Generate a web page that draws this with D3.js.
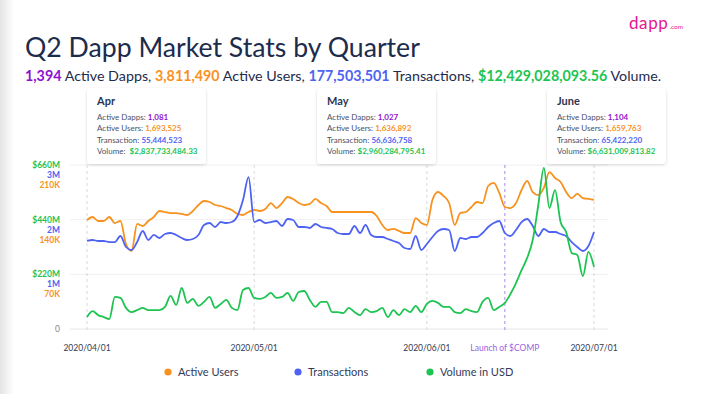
<!DOCTYPE html>
<html><head><meta charset="utf-8">
<script src="https://cdn.jsdelivr.net/npm/d3@7"></script>
<style>body{margin:0;background:#fff} svg{display:block}</style>
</head><body><svg id="c" width="702" height="394"></svg>
<script>
// ---------- DATA ----------
const startDate = "2020-04-01";
const activeUsers = [139.6,143.4,138.3,138.3,143.4,135.7,138.3,108.8,99.9,134.5,131.9,138.3,143.4,151.1,149.8,148.5,148.5,147.3,146.0,151.1,158.8,163.9,162.6,158.8,157.5,154.9,152.4,147.3,146.0,149.8,152.4,151.1,153.7,161.3,154.9,161.3,169.0,166.5,161.3,158.8,160.1,166.5,161.3,157.5,149.8,149.8,149.8,149.8,149.8,149.8,149.8,149.8,144.7,133.2,126.8,128.1,125.5,122.9,122.9,142.1,135.7,133.2,165.2,175.4,170.3,161.3,133.2,148.5,149.8,156.2,162.6,161.3,183.1,187.0,174.2,156.2,154.9,161.3,178.0,189.5,175.4,171.6,180.6,201.0,193.4,188.2,175.4,167.7,172.9,167.7,166.5,165.2].map(v=>v*1000);
const transactions = [1610,1628,1610,1610,1591,1591,1701,1500,1445,1591,1793,1628,1720,1665,1738,1756,1720,1665,1628,1646,1720,1902,1939,1866,1957,1939,1957,2067,2360,2780,1957,1994,1939,1957,1976,1884,2012,1994,1866,1866,1848,1921,1866,1848,1829,1756,1738,1738,1884,1756,1902,1720,1683,1683,1646,1610,1573,1482,1463,1701,1445,1555,1683,1793,1829,1811,1427,1665,1646,1683,1683,1756,1866,1939,1976,1756,1701,1811,1957,2012,1884,1701,1829,1774,1774,1738,1701,1591,1500,1427,1518,1774].map(v=>v*1000);
const volumeUSD = [48,72,56,48,40,129,125,85,68,76,85,76,76,76,89,133,97,165,105,121,93,109,129,85,101,117,85,76,157,165,125,121,129,145,125,129,145,113,149,153,117,89,109,109,68,68,64,85,68,56,80,68,72,85,48,76,56,80,68,93,68,101,113,105,89,89,68,64,80,72,68,109,125,76,89,105,141,185,237,286,358,499,648,487,559,431,390,306,298,213,310,250].map(v=>v*1e6);

const volumeTicks = [220e6, 440e6, 660e6];
const txTicks = [1e6, 2e6, 3e6];
const userTicks = [70e3, 140e3, 210e3];
const dateTicks = ["2020/04/01", "2020/05/01", "2020/06/01", "2020/07/01"];
const compLaunch = "2020/06/15";
const compLabel = "Launch of $COMP";

const summary = [
  {v:"1,394", t:" Active Dapps, ", c:"purple"},
  {v:"3,811,490", t:" Active Users, ", c:"orange"},
  {v:"177,503,501", t:" Transactions, ", c:"blue"},
  {v:"$12,429,028,093.56", t:" Volume.", c:"green"}
];
const monthNames = ["Apr", "May", "June"];
const monthDapps = ["1,081", "1,027", "1,104"];
const monthUsers = ["1,693,525", "1,636,892", "1,659,763"];
const monthTx = ["55,444,523", "56,636,758", "65,422,220"];
const monthVol = ["$2,837,733,484.33", "$2,960,284,795.41", "$6,631,009,813.82"];
const legendItems = [["Active Users","orange"],["Transactions","blue"],["Volume in USD","green"]];

// ---------- STYLE ----------
const C = {orange:"#f7921f", blue:"#4f63f2", green:"#1ec452", purple:"#9012d0", navy:"#1d2b4c", text:"#3a4260"};
const FONT = "Lato, 'Open Sans', sans-serif";

const svg = d3.select("#c");
const defs = svg.append("defs");
const lg = defs.append("linearGradient").attr("id","edge").attr("x1",0).attr("x2",1);
lg.append("stop").attr("offset",0).attr("stop-color","#e4e4e4");
lg.append("stop").attr("offset",1).attr("stop-color","#ffffff");
svg.append("rect").attr("width",702).attr("height",394).attr("fill","#fff");
svg.append("rect").attr("width",14).attr("height",394).attr("fill","url(#edge)");
const sh = defs.append("filter").attr("id","sh").attr("x","-20%").attr("y","-20%").attr("width","140%").attr("height","150%");
sh.append("feDropShadow").attr("dx",0).attr("dy",1).attr("stdDeviation",1.6).attr("flood-color","#000").attr("flood-opacity",0.16);

function fit(sel, w){ const l = sel.node().getComputedTextLength(); const fs = parseFloat(sel.attr("font-size")); sel.attr("font-size", fs*w/l); }

// Title
const title = svg.append("text").attr("x",25).attr("y",57).attr("font-family",FONT).attr("font-size",28)
  .attr("fill",C.navy).attr("font-weight",400).text("Q2 Dapp Market Stats by Quarter");
fit(title, 395);

// logo
const logo = svg.append("text").attr("x",629).attr("y",29).attr("font-family",FONT).attr("fill","#e5168e");
logo.append("tspan").attr("font-size",17).attr("font-weight",400).attr("letter-spacing",0.6).text("dapp");
logo.append("tspan").attr("font-size",6.5).attr("dx",1).text(".com");

// subtitle
const sub = svg.append("text").attr("x",25).attr("y",81).attr("font-family",FONT).attr("font-size",14).attr("fill",C.navy);
summary.forEach(s=>{
  sub.append("tspan").attr("font-weight",700).attr("fill",C[s.c]).text(s.v);
  sub.append("tspan").attr("font-weight",400).attr("xml:space","preserve").text(s.t);
});
sub.attr("xml:space","preserve");
fit(sub, 637);

// ---------- SCALES ----------
const parse = d3.timeParse("%Y/%m/%d");
const t0 = d3.timeParse("%Y-%m-%d")(startDate);
const dates = activeUsers.map((_,i)=>d3.timeDay.offset(t0,i));
const x = d3.scaleTime().domain([parse(dateTicks[0]), parse(dateTicks[3])]).range([87,594]);
const y0 = 329, y1 = 165;
const yVol = d3.scaleLinear().domain([0,660e6]).range([y0,y1]);
const yTx = d3.scaleLinear().domain([0,3e6]).range([y0,y1]);
const yUs = d3.scaleLinear().domain([0,210e3]).range([y0,y1]);

// grid
const grid = svg.append("g");
[0].concat(volumeTicks).forEach(v=>{
  grid.append("line").attr("x1",70).attr("x2",608).attr("y1",yVol(v)).attr("y2",yVol(v))
    .attr("stroke", v===0?"#e6e6ea":"#f0f0f2").attr("stroke-width",1);
});
// left axis labels (three stacked scales)
const fmtVol = v=>"$"+(v/1e6)+"M", fmtTx = v=>(v/1e6)+"M", fmtUs = v=>(v/1e3)+"K";
const la = svg.append("g").attr("font-family",FONT).attr("font-size",8.5).attr("font-weight",700).attr("text-anchor","end");
volumeTicks.forEach((v,i)=>{
  la.append("text").attr("x",60).attr("y",yVol(v)+3).attr("fill",C.green).text(fmtVol(v));
  la.append("text").attr("x",60).attr("y",yTx(txTicks[i])+13).attr("fill",C.blue).text(fmtTx(txTicks[i]));
  la.append("text").attr("x",60).attr("y",yUs(userTicks[i])+23).attr("fill",C.orange).text(fmtUs(userTicks[i]));
});
la.append("text").attr("x",60).attr("y",y0+3).attr("fill","#888").attr("font-weight",400).text("0");

// vertical dashed lines
dateTicks.forEach(d=>{
  svg.append("line").attr("x1",x(parse(d))).attr("x2",x(parse(d))).attr("y1",y1).attr("y2",y0+2)
    .attr("stroke","#cfcfd6").attr("stroke-dasharray","3,3").attr("stroke-width",0.8);
  svg.append("text").attr("x",x(parse(d))).attr("y",351).attr("text-anchor","middle").attr("font-family",FONT)
    .attr("font-size",8.5).attr("fill","#333a50").text(d);
});
svg.append("line").attr("x1",x(parse(compLaunch))).attr("x2",x(parse(compLaunch))).attr("y1",y1).attr("y2",y0+2)
  .attr("stroke","#a27be6").attr("stroke-dasharray","3,3").attr("stroke-width",0.9);
svg.append("text").attr("x",x(parse(compLaunch))).attr("y",351).attr("text-anchor","middle").attr("font-family",FONT)
  .attr("font-size",8.5).attr("fill","#9b5fe0").text(compLabel);

// lines
function drawLine(vals, ys, col){
  const line = d3.line().x((d,i)=>x(dates[i])).y(d=>ys(d)).curve(d3.curveMonotoneX);
  svg.append("path").datum(vals).attr("d",line).attr("fill","none").attr("stroke",col)
    .attr("stroke-width",1.8).attr("stroke-linejoin","round");
}
drawLine(activeUsers, yUs, C.orange);
drawLine(transactions, yTx, C.blue);
drawLine(volumeUSD, yVol, C.green);

// tooltip boxes
const boxX = [87, 317, 547];
monthNames.forEach((m,i)=>{
  const g = svg.append("g").attr("transform",`translate(${boxX[i]},88)`).attr("font-family",FONT);
  g.append("rect").attr("width",119).attr("height",76).attr("rx",4).attr("fill","#fff").attr("filter","url(#sh)");
  g.append("text").attr("x",10).attr("y",17).attr("font-size",11).attr("font-weight",700).attr("fill","#2b3652").text(m);
  const rows = [["Active Dapps: ",monthDapps[i],C.purple],["Active Users: ",monthUsers[i],C.orange],["Transaction: ",monthTx[i],C.blue],[i===0?"Volume:  ":"Volume: ",monthVol[i],C.green]];
  rows.forEach((r,j)=>{
    const t = g.append("text").attr("x",10).attr("y",32+j*11.3).attr("font-size",8).attr("xml:space","preserve");
    t.append("tspan").attr("fill","#4a5068").text(r[0]);
    t.append("tspan").attr("fill",r[2]).attr("font-weight",700).text(r[1]);
  });
});

// legend
const legX = [168, 298, 430];
legendItems.forEach((l,i)=>{
  svg.append("circle").attr("cx",legX[i]).attr("cy",372).attr("r",3.6).attr("fill",C[l[1]]);
  svg.append("text").attr("x",legX[i]+10).attr("y",376).attr("font-family",FONT).attr("font-size",11)
    .attr("fill","#333a5a").text(l[0]);
});
</script></body></html>
